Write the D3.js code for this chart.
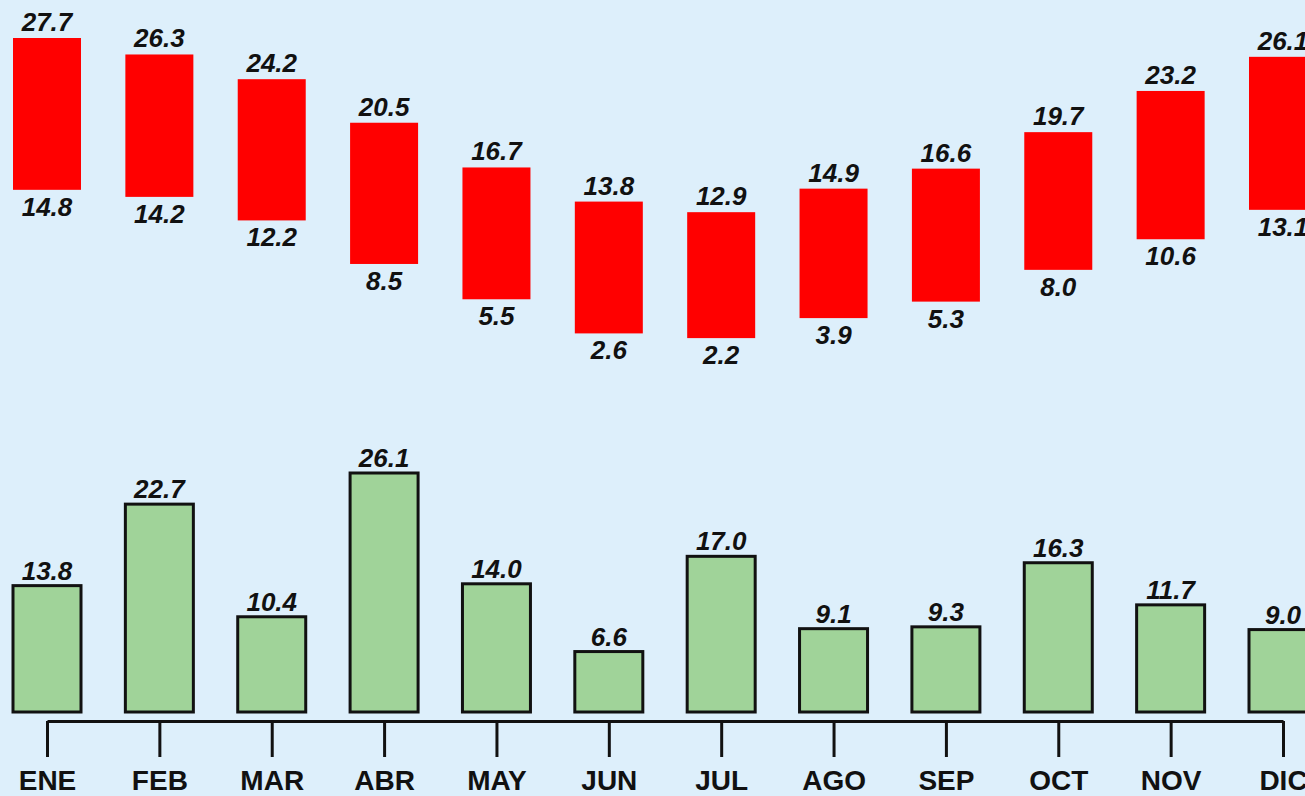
<!DOCTYPE html>
<html>
<head>
<meta charset="utf-8">
<script src="https://cdn.jsdelivr.net/npm/d3@7"></script>
<style>
  body { margin: 0; background: #ddeffb; }
  svg { display: block; }
  text { font-family: "Liberation Sans", Arial, sans-serif; fill: #111; }
</style>
</head>
<body>
<div id="chart"></div>
<script>
// months + climate values
var months = ["ENE", "FEB", "MAR", "ABR", "MAY", "JUN", "JUL", "AGO", "SEP", "OCT", "NOV", "DIC"];
var tempMax = [27.7, 26.3, 24.2, 20.5, 16.7, 13.8, 12.9, 14.9, 16.6, 19.7, 23.2, 26.1];
var tempMin = [14.8, 14.2, 12.2, 8.5, 5.5, 2.6, 2.2, 3.9, 5.3, 8.0, 10.6, 13.1];
var rain = [13.8, 22.7, 10.4, 26.1, 14.0, 6.6, 17.0, 9.1, 9.3, 16.3, 11.7, 9.0];

var width = 1305, height = 796;
var barW = 68;

var svg = d3.select("#chart")
  .append("svg")
    .attr("width", width)
    .attr("height", height);

svg.append("rect")
  .attr("width", width)
  .attr("height", height)
  .attr("fill", "#ddeffb");

// x: month centres
var x = d3.scalePoint()
  .domain(months)
  .range([47, 1283]);

// temperature scale (top panel)
var yT = d3.scaleLinear()
  .domain([0, 27.7])
  .range([364, 38]);

// rain scale (bottom panel)
var yR = d3.scaleLinear()
  .domain([0, 26.1])
  .range([712, 473]);

var fmt = d3.format(".1f");

var data = months.map(function(m, i) {
  return {month: m, max: tempMax[i], min: tempMin[i], rain: rain[i]};
});

function valueLabel(sel) {
  sel.attr("text-anchor", "middle")
    .style("font-size", "26px")
    .style("font-weight", "bold")
    .style("font-style", "italic");
}

// red range bars
svg.append("g")
  .selectAll("rect")
  .data(data)
  .enter()
  .append("rect")
    .attr("x", function(d) { return x(d.month) - barW / 2; })
    .attr("y", function(d) { return yT(d.max); })
    .attr("width", barW)
    .attr("height", function(d) { return yT(d.min) - yT(d.max); })
    .attr("fill", "#ff0000");

svg.append("g")
  .selectAll("text")
  .data(data)
  .enter()
  .append("text")
    .attr("x", function(d) { return x(d.month); })
    .attr("y", function(d) { return yT(d.max) - 7; })
    .call(valueLabel)
    .text(function(d) { return fmt(d.max); });

svg.append("g")
  .selectAll("text")
  .data(data)
  .enter()
  .append("text")
    .attr("x", function(d) { return x(d.month); })
    .attr("y", function(d) { return yT(d.min) + 26; })
    .call(valueLabel)
    .text(function(d) { return fmt(d.min); });

// green rain bars
svg.append("g")
  .selectAll("rect")
  .data(data)
  .enter()
  .append("rect")
    .attr("x", function(d) { return x(d.month) - barW / 2; })
    .attr("y", function(d) { return yR(d.rain); })
    .attr("width", barW)
    .attr("height", function(d) { return yR(0) - yR(d.rain); })
    .attr("fill", "#a0d399")
    .attr("stroke", "#111")
    .attr("stroke-width", 3);

svg.append("g")
  .selectAll("text")
  .data(data)
  .enter()
  .append("text")
    .attr("x", function(d) { return x(d.month); })
    .attr("y", function(d) { return yR(d.rain) - 6; })
    .call(valueLabel)
    .text(function(d) { return fmt(d.rain); });

// month axis
var axis = svg.append("g")
  .attr("transform", "translate(0,721)")
  .call(d3.axisBottom(x).tickSize(36).tickSizeOuter(0).tickPadding(13));

axis.select(".domain")
  .attr("stroke", "#111")
  .attr("stroke-width", 3);
axis.selectAll(".tick line")
  .attr("stroke", "#111")
  .attr("stroke-width", 3);
axis.selectAll(".tick text")
  .style("font-family", "'Liberation Sans', Arial, sans-serif")
  .style("font-size", "28px")
  .style("font-weight", "bold")
  .attr("fill", "#111");
</script>
</body>
</html>
